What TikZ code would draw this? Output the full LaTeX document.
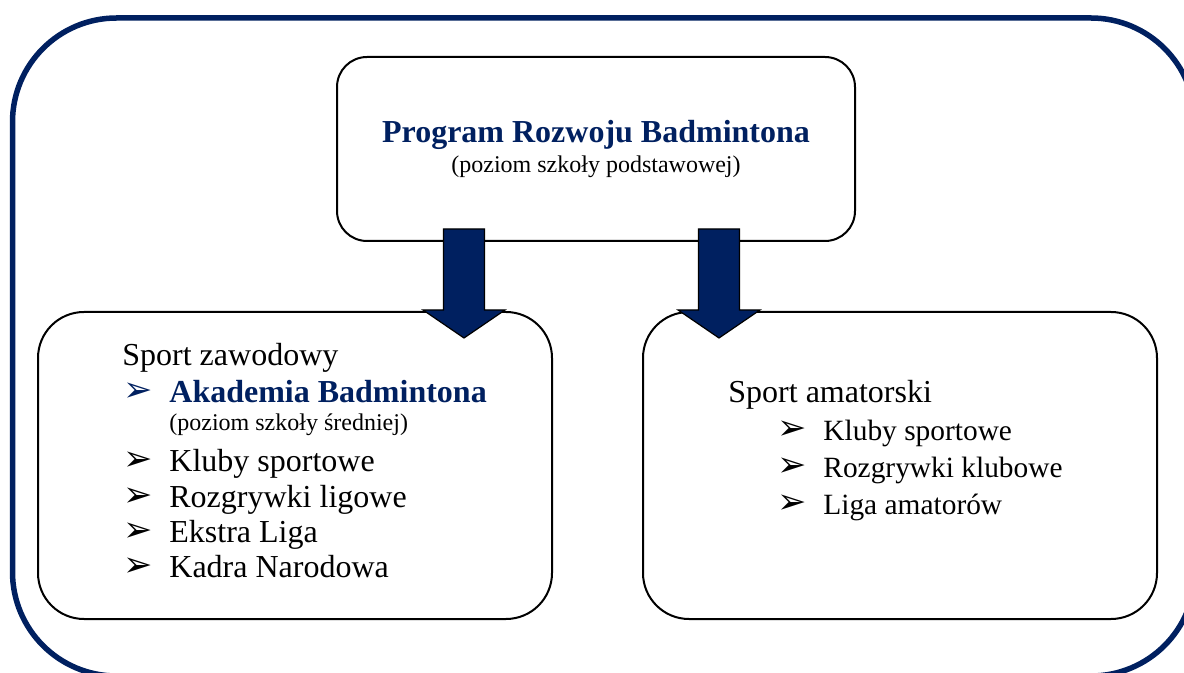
\documentclass[tikz,border=0pt]{standalone}
\usepackage{fontspec}
\setmainfont{Liberation Serif}
\newfontfamily\dingfont{DejaVu Sans}
\usetikzlibrary{calc}
\definecolor{granat}{RGB}{0,32,96}
\newcommand{\duzy}{\fontsize{16}{19}\selectfont}
\newcommand{\sredni}{\fontsize{14.7}{17}\selectfont}
\newcommand{\maly}{\fontsize{12}{14}\selectfont}
\newcommand{\punkt}{\smash{\dingfont\fontsize{17.5}{17.5}\selectfont ➢}}
% strzalka od #1 (gora trzonu) do #2 (grot)
\newcommand{\strzalka}[2]{%
  \filldraw[grot] ([xshift=-10.25pt]#1) -- ([xshift=10.25pt]#1)
    -- ([xshift=10.25pt,yshift=14pt]#2) -- ([xshift=20.5pt,yshift=14pt]#2)
    -- (#2) -- ([xshift=-20.5pt,yshift=14pt]#2)
    -- ([xshift=-10.25pt,yshift=14pt]#2) -- cycle;}
\tikzset{
  rama/.style={draw=granat, line width=2.75pt, rounded corners=52pt},
  gorna/.style={draw=black, line width=1pt, fill=white, rounded corners=15pt,
    minimum width=259pt, minimum height=92pt},
  dolna/.style={draw=black, line width=1pt, fill=white, rounded corners=23pt,
    minimum width=257pt, minimum height=153.5pt},
  grot/.style={draw=black, line width=0.6pt, fill=granat},
  tekst/.style={inner sep=0pt, anchor=base west}
}
\begin{document}
\begin{tikzpicture}[x=0.5pt,y=-0.5pt]
\useasboundingbox (0,0) rectangle (1184,673);
\clip (0,0) rectangle (1184,673);
% rama
\draw[rama] (12.5,18) rectangle (1195,676);

% skrzynki
\node[gorna] (gora) at (596,149) {};
\node[dolna] (lewy) at (295,465.5) {};
\node[dolna] (prawy) at (900,465.5) {};

% strzalki
\coordinate (p1) at ($(gora.south)+(-66pt,6.5pt)$);
\coordinate (p2) at ($(gora.south)+(61.5pt,6.5pt)$);
\coordinate (k1) at ($(p1 |- lewy.north)+(0,-13.5pt)$);
\coordinate (k2) at ($(p2 |- prawy.north)+(0,-13.5pt)$);
\strzalka{p1}{k1}
\strzalka{p2}{k2}

% napisy u gory
\node[tekst, anchor=base, font=\bfseries\duzy, text=granat] (tytul) at (596,143) {Program Rozwoju Badmintona};
\node[tekst, anchor=base, font=\maly] (podtytul) at (596,173) {(poziom szkoły podstawowej)};

% sport zawodowy
\node[tekst, font=\duzy] (zaw) at (122,366) {Sport zawodowy};
\node[tekst, text=granat] (zaw0) at (123,402) {\punkt};
\node[tekst, font=\bfseries\duzy, text=granat] (akad) at (169,403) {Akademia Badmintona};
\node[tekst, font=\maly] (akad2) at (169,431) {(poziom szkoły średniej)};
\foreach \t [count=\i] in {Kluby sportowe, Rozgrywki ligowe, Ekstra Liga, Kadra Narodowa} {
  \node[tekst] (zawp\i) at (123,435.7+35.3*\i) {\punkt};
  \node[tekst, font=\duzy] (zaw\i) at (169,436.7+35.3*\i) {\t};
}

% sport amatorski
\node[tekst, font=\duzy] (am) at (728,403) {Sport amatorski};
\foreach \t [count=\i] in {Kluby sportowe, Rozgrywki klubowe, Liga amatorów} {
  \node[tekst] (amp\i) at (777,403+37*\i) {\punkt};
  \node[tekst, font=\sredni] (am\i) at (823,404+37*\i) {\t};
}
\end{tikzpicture}
\end{document}
